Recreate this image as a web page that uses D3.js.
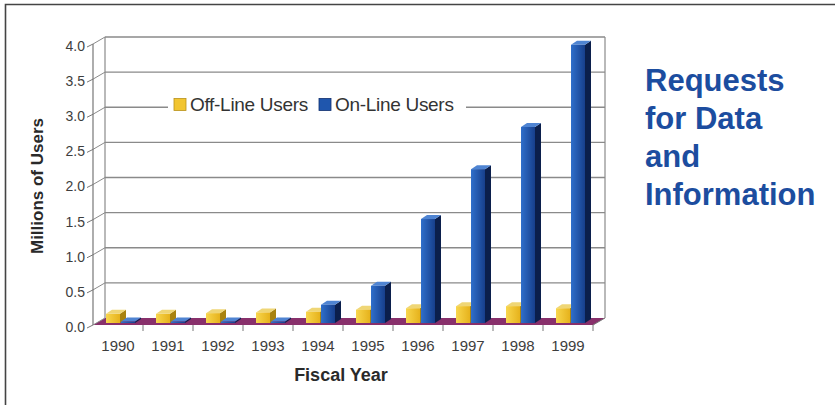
<!DOCTYPE html>
<html><head><meta charset="utf-8">
<script src="https://cdn.jsdelivr.net/npm/d3@7/dist/d3.min.js"></script>
<style>html,body{margin:0;padding:0;background:#fff;}svg{display:block;}</style>
</head><body>
<svg id="c" width="835" height="405"></svg>
<script>
const years = ["1990","1991","1992","1993","1994","1995","1996","1997","1998","1999"];
const offLine = [0.13,0.13,0.14,0.15,0.16,0.19,0.21,0.24,0.24,0.21];
const onLine  = [0.02,0.02,0.02,0.02,0.26,0.53,1.48,2.19,2.79,3.96];
const yTicks = [0,0.5,1,1.5,2,2.5,3,3.5,4];
const seriesNames = ["Off-Line Users","On-Line Users"];
const titleLines = ["Requests","for Data","and","Information"];

const svg = d3.select("#c");
const font = "'Liberation Sans', Arial, sans-serif";

// frame
svg.append("path").attr("d","M5.5,405 L5.5,4.5 L835,4.5").attr("fill","none").attr("stroke","#444").attr("stroke-width",1.6);

// 3D geometry
const DX = 12, DY = -7; // wall depth offset
const x = d3.scaleBand().domain(years).range([93, 593]).padding(0);
const yF = d3.scaleLinear().domain([0,4]).range([325, 44]); // front plane
const yB = v => yF(v) + DY; // back wall

const g = svg.append("g");
// floor
const fl = 93, fr = 593, fy = yF(0);
g.append("path")
  .attr("d",`M${fl},${fy} L${fr},${fy} L${fr+DX},${fy+DY} L${fl+DX},${fy+DY} Z`)
  .attr("fill","#88306b");

// back wall gridlines and side wall lines
const gridCol = "#8a8a8a";
yTicks.forEach(t => {
  if (t > 0) g.append("line").attr("x1",fl+DX).attr("x2",fr+DX).attr("y1",yB(t)).attr("y2",yB(t))
    .attr("stroke",gridCol).attr("stroke-width",1.3);
  g.append("line").attr("x1",fl).attr("y1",yF(t)).attr("x2",fl+DX).attr("y2",yB(t))
    .attr("stroke",gridCol).attr("stroke-width",1);
  g.append("line").attr("x1",fl-6).attr("y1",yF(t)+3).attr("x2",fl).attr("y2",yF(t))
    .attr("stroke","#777").attr("stroke-width",1);
});
g.append("line").attr("x1",fl).attr("x2",fl).attr("y1",yF(4)).attr("y2",yF(0)).attr("stroke","#777").attr("stroke-width",1.2);
g.append("line").attr("x1",fl+DX).attr("x2",fl+DX).attr("y1",yB(4)).attr("y2",yB(0)).attr("stroke",gridCol).attr("stroke-width",1.2);
g.append("line").attr("x1",fr+DX).attr("x2",fr+DX).attr("y1",yB(4)).attr("y2",yB(0)).attr("stroke",gridCol).attr("stroke-width",1.2);

// y labels
g.selectAll(".yl").data(yTicks).join("text")
  .attr("x",85).attr("y",d=>yF(d)+2).attr("dy","0.35em").attr("text-anchor","end")
  .attr("font-family",font).attr("font-size",14).attr("fill","#3d3d3d")
  .text(d=>d3.format(".1f")(d));

// x ticks
years.forEach((yr,i)=>{
  if (i>0) g.append("line").attr("x1",x(yr)).attr("x2",x(yr)).attr("y1",fy).attr("y2",fy+6).attr("stroke","#777");
});
g.append("line").attr("x1",fr).attr("x2",fr).attr("y1",fy).attr("y2",fy+6).attr("stroke","#777");
g.append("line").attr("x1",fr).attr("y1",fy).attr("x2",fr+DX).attr("y2",fy+DY).attr("stroke","#777");

// x labels
g.selectAll(".xl").data(years).join("text")
  .attr("x",d=>x(d)+x.bandwidth()/2).attr("y",351).attr("text-anchor","middle")
  .attr("font-family",font).attr("font-size",15).attr("fill","#3d3d3d").text(d=>d);

// gradients
const defs = svg.append("defs");
function grad(id, c1, c2){
  const lg = defs.append("linearGradient").attr("id",id).attr("x1","0").attr("x2","1").attr("y1","0").attr("y2","0");
  lg.append("stop").attr("offset","0").attr("stop-color",c1);
  lg.append("stop").attr("offset","1").attr("stop-color",c2);
}
grad("gy","#f8d64c","#e6b21c");
grad("gb","#2f6fcb","#173f8c");

// bars
const bw = 14, bdx = 6, bdy = -4;
const yBar = d3.scaleLinear().domain([0,4]).range([323, 42]);
const series = [
  {vals: offLine, off: 13, front:"url(#gy)", top:"#efd676", side:"#a8820f"},
  {vals: onLine,  off: 28, front:"url(#gb)", top:"#4f84d2", side:"#0b1f4c"}
];
series.forEach(s=>{
  const bars = g.append("g");
  s.vals.forEach((v,i)=>{
    const x0 = x(years[i]) + s.off, y0 = yBar(0), y1 = yBar(v);
    const bg = bars.append("g");
    bg.append("path").attr("d",`M${x0+bw},${y0} L${x0+bw+bdx},${y0+bdy} L${x0+bw+bdx},${y1+bdy} L${x0+bw},${y1} Z`).attr("fill",s.side);
    bg.append("path").attr("d",`M${x0},${y1} L${x0+bdx},${y1+bdy} L${x0+bw+bdx},${y1+bdy} L${x0+bw},${y1} Z`).attr("fill",s.top);
    bg.append("rect").attr("x",x0).attr("y",y1).attr("width",bw).attr("height",y0-y1).attr("fill",s.front);
  });
});

// legend
const lg = svg.append("g");
lg.append("rect").attr("x",168).attr("y",94).attr("width",298).attr("height",22).attr("fill","#fff");
const legItems = [{x:174, c:"#f2c531", s:"#b8911a"},{x:319, c:"#1f56ad", s:"#0f2f6e"}];
legItems.forEach((it,i)=>{
  lg.append("rect").attr("x",it.x).attr("y",98.5).attr("width",12).attr("height",12).attr("fill",it.c).attr("stroke",it.s).attr("stroke-width",0.8);
  lg.append("text").attr("x",it.x+16).attr("y",111).attr("font-family",font).attr("font-size",19).attr("fill","#333")
    .attr("letter-spacing",-0.3).text(seriesNames[i]);
});

// axis titles
svg.append("text").attr("x",341).attr("y",381).attr("text-anchor","middle")
  .attr("font-family",font).attr("font-weight","bold").attr("font-size",18).attr("fill","#2a2a2a").text("Fiscal Year");
svg.append("text").attr("transform","translate(43,186) rotate(-90)").attr("text-anchor","middle")
  .attr("font-family",font).attr("font-weight","bold").attr("font-size",17).attr("fill","#2a2a2a").text("Millions of Users");

// right title
svg.append("g").selectAll("text").data(titleLines).join("text")
  .attr("x",645).attr("y",(d,i)=>91+i*38)
  .attr("font-family",font).attr("font-weight","bold").attr("font-size",31).attr("fill","#1c4d9f").text(d=>d);
</script>
</body></html>
